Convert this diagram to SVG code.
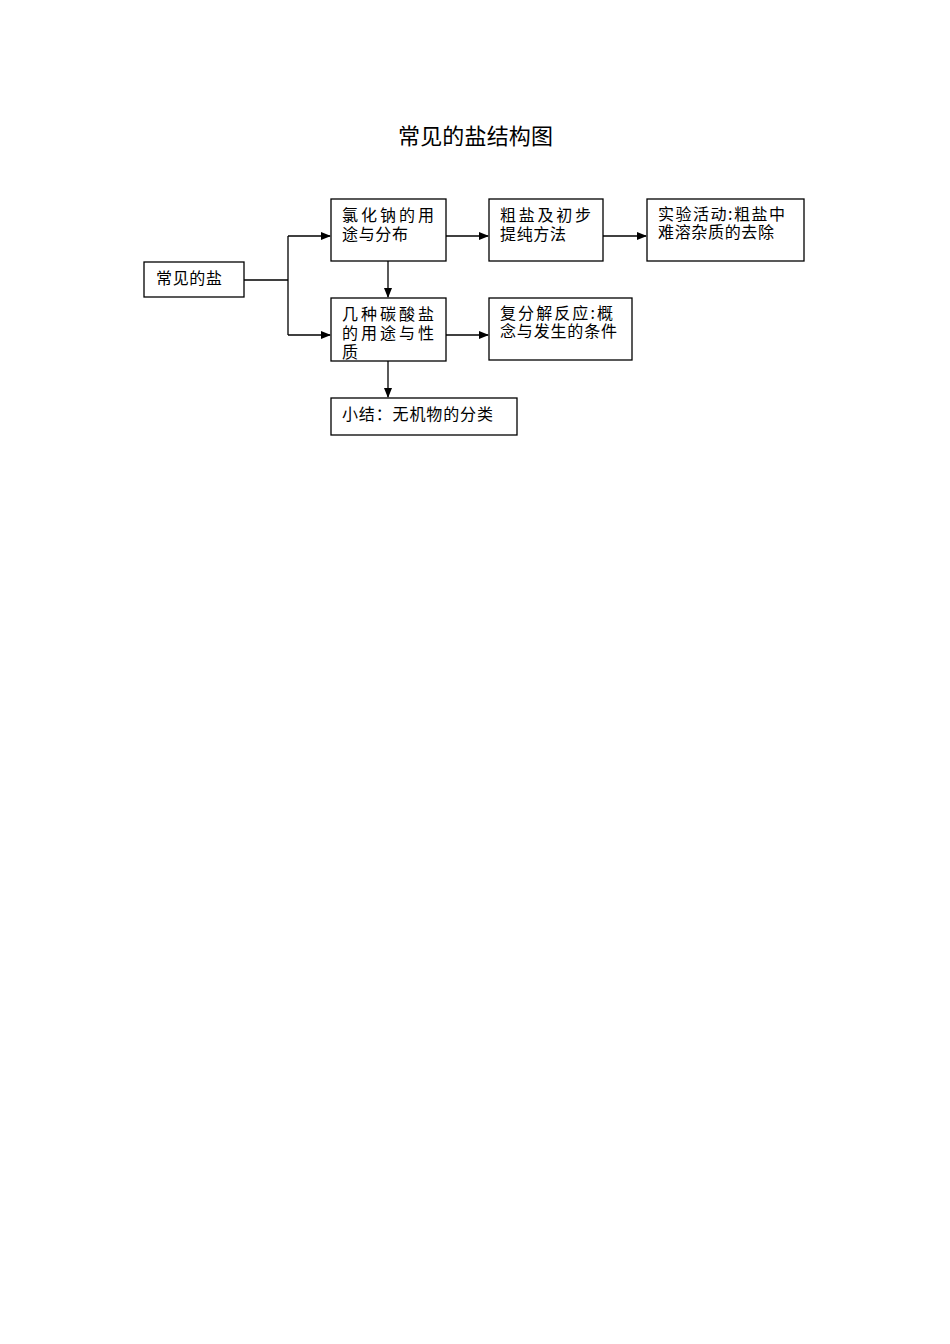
<svg xmlns="http://www.w3.org/2000/svg" width="950" height="1344" viewBox="0 0 950 1344">
<style>
rect{fill:#fff;stroke:#000;stroke-width:1.3}
text{font-family:"Noto Sans CJK SC",sans-serif;font-size:16px;fill:#000}
.c{stroke:#000;stroke-width:1.3;fill:none}
</style>
<defs><marker id="a" markerWidth="10" markerHeight="8" refX="9" refY="4" orient="auto" markerUnits="userSpaceOnUse"><path d="M0,0L10,4L0,8z" fill="#000"/></marker></defs>
<rect width="950" height="1344" style="stroke:none"/>
<text x="398" y="144" textLength="155" style="font-size:22px">常见的盐结构图</text>
<g id="connectors">
<path class="c" d="M244,280H288M288,236V335"/>
<path class="c" d="M288,236H330" marker-end="url(#a)"/>
<path class="c" d="M288,335H330" marker-end="url(#a)"/>
<path class="c" d="M446,236H488" marker-end="url(#a)"/>
<path class="c" d="M603,236H646" marker-end="url(#a)"/>
<path class="c" d="M388,261V297" marker-end="url(#a)"/>
<path class="c" d="M446,335H488" marker-end="url(#a)"/>
<path class="c" d="M388,361V397" marker-end="url(#a)"/>
</g>
<g id="n1"><rect x="144" y="262" width="100" height="35"/><text x="156" y="284" textLength="66">常见的盐</text></g>
<g id="n2"><rect x="331" y="199" width="115" height="62"/><text x="342" y="221" textLength="92">氯化钠的用</text><text x="342" y="240" textLength="66">途与分布</text></g>
<g id="n3"><rect x="489" y="199" width="114" height="62"/><text x="500" y="221" textLength="91">粗盐及初步</text><text x="500" y="240" textLength="66">提纯方法</text></g>
<g id="n4"><rect x="647" y="199" width="157" height="62"/><text x="658" y="220" textLength="127">实验活动:粗盐中</text><text x="658" y="238" textLength="116">难溶杂质的去除</text></g>
<g id="n5"><rect x="331" y="298" width="115" height="63"/><text x="342" y="320" textLength="92">几种碳酸盐</text><text x="342" y="339" textLength="92">的用途与性</text><text x="342" y="358">质</text></g>
<g id="n6"><rect x="489" y="298" width="143" height="62"/><text x="500" y="319" textLength="113">复分解反应:概</text><text x="500" y="337" textLength="117">念与发生的条件</text></g>
<g id="n7"><rect x="331" y="398" width="186" height="37"/><text x="342" y="420" textLength="151">小结：无机物的分类</text></g>
</svg>
